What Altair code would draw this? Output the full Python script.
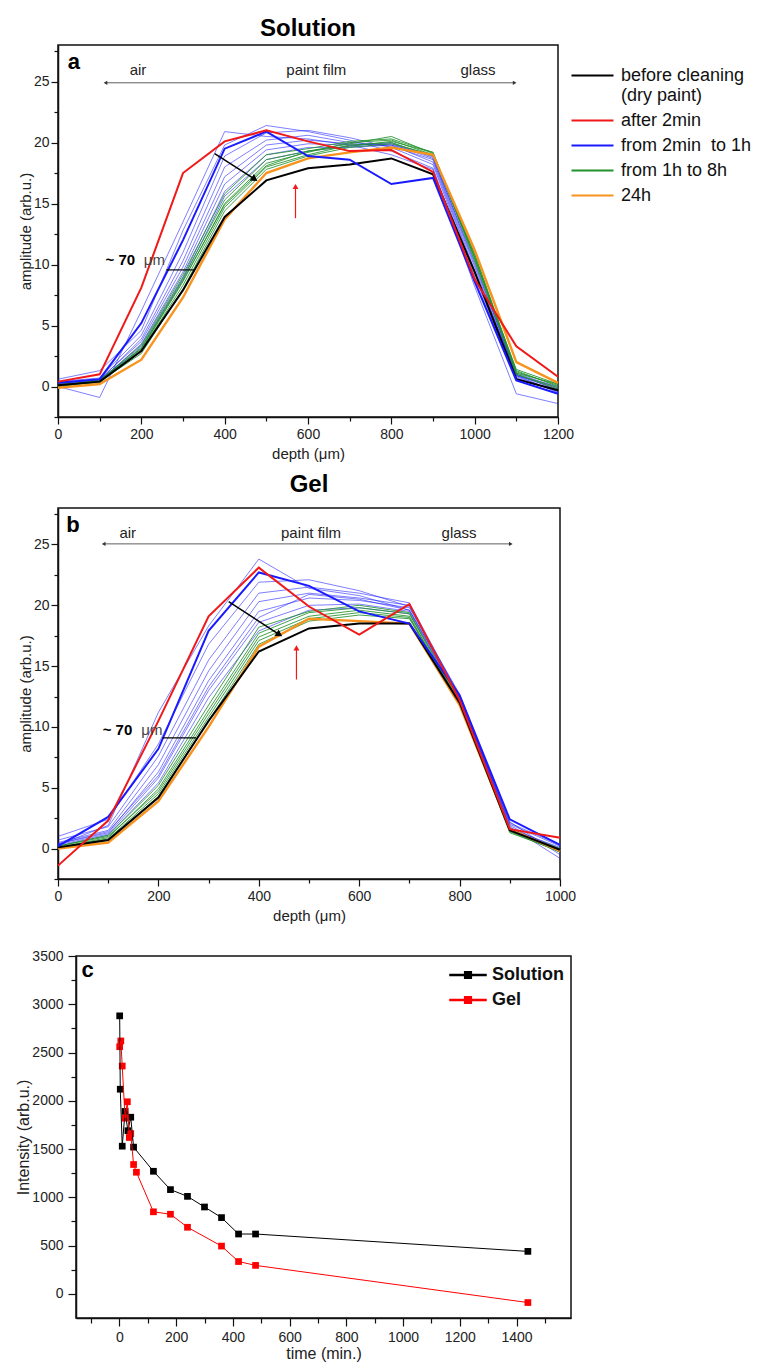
import altair as alt
import pandas as pd

FONT = "Liberation Sans"

# ---------------- Panel a : Solution ----------------
depth_a = [0, 100, 200, 300, 400, 500, 600, 700, 800, 900, 1000, 1100, 1200]
a_black = [0.1, 0.4, 2.9, 7.9, 13.9, 16.9, 17.9, 18.2, 18.7, 17.4, 9.4, 0.6, -0.3]
a_red = [0.4, 1.0, 8.1, 17.5, 20.1, 21.0, 20.1, 19.3, 19.4, 17.6, 8.8, 3.3, 0.8]
a_blue = [0.3, 0.6, 5.2, 12.0, 19.5, 20.9, 18.9, 18.6, 16.6, 17.1, 8.6, 0.5, -0.6]
a_orange = [-0.1, 0.2, 2.2, 7.3, 13.7, 17.5, 18.7, 19.2, 19.6, 19.0, 11.2, 2.0, 0.3]
a_tb1 = [0.0, -0.9, 6.2, 13.5, 20.9, 20.5, 20.3, 19.8, 19.0, 17.8, 8.2, -0.6, -1.4]
a_tb2 = [0.6, 1.3, 4.6, 12.8, 19.8, 21.4, 20.9, 20.2, 19.3, 17.9, 8.6, 0.9, -0.5]
a_tb3 = [0.4, 0.7, 4.2, 11.0, 18.9, 20.8, 21.0, 20.4, 19.6, 18.2, 9.0, 0.7, -0.4]
a_tb4 = [0.3, 0.5, 3.9, 10.3, 18.0, 20.2, 20.6, 20.0, 19.8, 18.4, 9.3, 0.9, -0.2]
a_tb5 = [0.2, 0.6, 3.7, 9.8, 17.2, 19.8, 20.2, 19.9, 19.7, 18.6, 9.5, 1.0, -0.3]
a_tb6 = [0.1, 0.4, 3.5, 9.4, 16.6, 19.4, 19.9, 19.8, 19.9, 18.7, 9.8, 0.8, -0.4]
a_tb7 = [0.2, 0.5, 3.3, 9.0, 16.0, 19.0, 19.6, 19.6, 19.8, 18.9, 10.0, 1.1, -0.1]
a_tb8 = [0.3, 0.6, 3.1, 8.8, 15.6, 18.6, 19.3, 19.7, 20.0, 18.8, 10.2, 0.9, 0.0]
a_g1 = [0.1, 0.5, 3.4, 9.2, 15.8, 19.0, 19.5, 20.1, 20.3, 19.2, 10.3, 1.2, 0.1]
a_g2 = [0.0, 0.4, 3.2, 8.9, 15.3, 18.6, 19.3, 19.9, 20.5, 19.1, 10.5, 1.4, 0.2]
a_g3 = [0.1, 0.5, 3.0, 8.6, 15.0, 18.3, 19.2, 20.0, 20.2, 19.0, 10.6, 1.0, -0.1]
a_g4 = [0.2, 0.3, 2.9, 8.3, 14.7, 18.0, 19.0, 19.8, 20.0, 18.9, 10.8, 1.3, 0.0]
a_g5 = [0.0, 0.4, 2.7, 8.0, 14.4, 17.8, 18.9, 19.6, 19.9, 19.0, 10.9, 1.1, 0.2]
a_g6 = [0.1, 0.5, 3.1, 8.7, 14.9, 18.1, 19.3, 19.7, 20.1, 19.2, 10.6, 1.0, -0.2]

# ---------------- Panel b : Gel ----------------
depth_b = [0, 100, 200, 300, 400, 500, 600, 700, 800, 900, 1000]
b_black = [0.1, 0.7, 4.2, 10.5, 16.2, 18.1, 18.5, 18.5, 12.0, 1.5, -0.1]
b_red = [-1.4, 2.3, 10.5, 19.1, 23.1, 19.9, 17.6, 20.1, 12.2, 1.6, 0.9]
b_blue = [0.2, 2.6, 8.2, 17.9, 22.7, 21.6, 19.5, 18.5, 12.6, 2.4, 0.3]
b_orange = [0.0, 0.5, 3.9, 10.0, 16.6, 18.9, 18.7, 18.5, 11.8, 1.6, -0.2]
b_tb1 = [0.3, 1.9, 11.2, 18.3, 23.8, 21.4, 20.8, 19.6, 12.5, 1.8, -0.8]
b_tb2 = [1.0, 2.4, 8.6, 16.8, 21.9, 22.1, 21.2, 19.9, 12.7, 2.2, -0.5]
b_tb3 = [0.7, 1.8, 7.6, 15.5, 21.0, 21.5, 21.0, 20.2, 12.5, 2.0, 0.2]
b_tb4 = [0.5, 1.5, 6.9, 14.6, 20.3, 21.0, 20.6, 20.0, 12.4, 1.7, 0.0]
b_tb5 = [0.4, 1.3, 6.3, 13.8, 19.5, 20.6, 20.4, 19.8, 12.6, 1.9, -0.3]
b_tb6 = [0.3, 1.2, 5.8, 13.0, 18.6, 20.0, 20.1, 19.5, 12.3, 1.6, 0.1]
b_tb7 = [0.2, 1.1, 5.4, 12.4, 17.9, 19.6, 19.8, 19.3, 12.4, 1.5, -0.2]
b_tb8 = [0.4, 1.4, 6.0, 13.3, 19.0, 20.9, 20.5, 19.6, 12.5, 2.1, 0.3]
b_g1 = [0.2, 1.1, 5.2, 11.8, 18.2, 19.5, 20.0, 19.4, 12.1, 1.5, -0.1]
b_g2 = [0.1, 0.9, 4.9, 11.4, 17.7, 19.4, 19.8, 19.3, 12.0, 1.4, -0.3]
b_g3 = [0.2, 1.0, 4.7, 11.1, 17.4, 19.1, 19.6, 19.1, 11.9, 1.3, -0.2]
b_g4 = [0.1, 0.8, 4.5, 10.8, 17.1, 18.9, 19.4, 19.0, 12.0, 1.5, 0.0]
b_g5 = [0.0, 0.7, 4.3, 10.5, 16.8, 18.7, 19.2, 18.9, 11.9, 1.4, -0.1]

# ---------------- Panel c : intensity vs time ----------------
sol_time = [1, 3, 10, 20, 30, 40, 50, 120, 180, 240, 300, 360, 420, 480, 1440]
sol_int = [2880, 2120, 1530, 1890, 1690, 1830, 1520, 1270, 1080, 1010, 900, 790, 620, 620, 440]
gel_time = [1, 5, 10, 20, 28, 35, 40, 50, 60, 120, 180, 240, 360, 420, 480, 1440]
gel_int = [2560, 2620, 2360, 1820, 1990, 1620, 1660, 1340, 1260, 850, 825, 690, 495, 335, 295, -90]

# ---------------- labels / ticks ----------------
LEG = ["before cleaning|(dry paint)", "after 2min", "from 2min\u00a0 to 1h", "from 1h to 8h", "24h"]
LEG_COLORS = ["#000000", "#f01818", "#1a1aff", "#22922b", "#f7931e"]
C_LEG = ["Solution", "Gel"]
C_COLORS = ["#000000", "#ff0000"]
AMP_TICKS = [-2.5, 0, 2.5, 5, 7.5, 10, 12.5, 15, 17.5, 20, 22.5, 25, 27.5]
A_XTICKS = [0, 100, 200, 300, 400, 500, 600, 700, 800, 900, 1000, 1100, 1200]
B_XTICKS = [0, 100, 200, 300, 400, 500, 600, 700, 800, 900, 1000]
C_XTICKS = [-100, 0, 100, 200, 300, 400, 500, 600, 700, 800, 900, 1000, 1100, 1200, 1300, 1400, 1500]
C_YTICKS = [0, 250, 500, 750, 1000, 1250, 1500, 1750, 2000, 2250, 2500, 2750, 3000, 3250, 3500]

ONE = pd.DataFrame({"k": [0]})


def long_df(depths, series):
    rows = []
    for sid, grp, vals in series:
        for d, v in zip(depths, vals):
            rows.append({"depth": d, "amp": v, "sid": sid, "grp": grp})
    return pd.DataFrame(rows)


def axis(values, title, major, minor_len=4, major_len=7, title_pad=3, title_size=15, label_pad=3):
    return alt.Axis(
        values=values,
        title=title,
        labelExpr=f"datum.value % {major} == 0 ? format(datum.value, 'd') : ''",
        tickSize={"condition": {"test": f"datum.value % {major} != 0", "value": minor_len}, "value": major_len},
        grid=False,
        labelFont=FONT, labelFontSize=14, labelColor="#222",
        titleFont=FONT, titleFontSize=title_size, titleFontWeight="normal", titleColor="#222",
        titlePadding=title_pad, labelPadding=label_pad,
        domainColor="#111", domainWidth=1.5, tickColor="#111", tickWidth=1.2,
        labelFlush=False, labelOverlap=False,
    )


def depth_panel(depths, xticks, xmax, width, height, thick, thin_blue, greens,
                title, title_offset, letter, ann, legend):
    xs = alt.Scale(domain=[0, xmax], nice=False, zero=False)
    ys = alt.Scale(domain=[-2.5, 28], nice=False, zero=False)
    XA = axis(xticks, "depth (μm)", 200, title_pad=5, label_pad=3)
    YA = axis(AMP_TICKS, "amplitude (arb.u.)", 5, title_pad=0, label_pad=2)
    X = alt.X("depth:Q", scale=xs, axis=XA)
    Y = alt.Y("amp:Q", scale=ys, axis=YA)
    cscale = alt.Scale(domain=LEG, range=LEG_COLORS)
    col = alt.Color("grp:N", scale=cscale, legend=legend)

    layers = []
    layers.append(alt.Chart(long_df(depths, thin_blue)).mark_line(strokeWidth=0.8, opacity=0.7)
                  .encode(x=X, y=Y, color=col, detail="sid:N"))
    layers.append(alt.Chart(long_df(depths, greens)).mark_line(strokeWidth=1.0, opacity=0.85)
                  .encode(x=X, y=Y, color=col, detail="sid:N"))
    for s in thick:
        sw = 2.4 if s[1] == LEG[4] else 2.0
        layers.append(alt.Chart(long_df(depths, [s])).mark_line(strokeWidth=sw)
                      .encode(x=X, y=Y, color=col))

    def dx(v):
        return alt.X(datum=v, scale=xs, axis=XA)

    def dy(v):
        return alt.Y(datum=v, scale=ys, axis=YA)

    base = alt.Chart(ONE)
    # double arrow air <-> glass
    layers.append(base.mark_rule(color="#333", strokeWidth=0.8)
                  .encode(x=dx(ann["arr_x1"]), x2=alt.X2(datum=ann["arr_x2"]), y=dy(ann["arr_y"])))
    layers.append(base.mark_point(shape="triangle-left", filled=True, size=18, color="#333", opacity=1)
                  .encode(x=dx(ann["arr_x1"]), y=dy(ann["arr_y"])))
    layers.append(base.mark_point(shape="triangle-right", filled=True, size=18, color="#333", opacity=1)
                  .encode(x=dx(ann["arr_x2"]), y=dy(ann["arr_y"])))
    for t, xv in zip(["air", "paint film", "glass"], ann["lab_x"]):
        layers.append(base.mark_text(text=t, font=FONT, fontSize=15, color="#222", baseline="middle")
                      .encode(x=dx(xv), y=dy(ann["lab_y"])))
    # panel letter
    layers.append(base.mark_text(text=letter, font=FONT, fontSize=22, fontWeight="bold", color="#000",
                                 baseline="middle", align="center")
                  .encode(x=dx(ann["let_x"]), y=dy(ann["let_y"])))
    # black diagonal arrow
    layers.append(base.mark_rule(color="#000", strokeWidth=1.5)
                  .encode(x=dx(ann["ba_x1"]), x2=alt.X2(datum=ann["ba_x2"]),
                          y=dy(ann["ba_y1"]), y2=alt.Y2(datum=ann["ba_y2"])))
    layers.append(base.mark_point(shape="triangle-right", filled=True, size=60, color="#000", opacity=1, angle=33)
                  .encode(x=dx(ann["ba_x2"]), y=dy(ann["ba_y2"])))
    # red vertical arrow
    layers.append(base.mark_rule(color="#f01818", strokeWidth=1.2)
                  .encode(x=dx(ann["ra_x"]), y=dy(ann["ra_y1"]), y2=alt.Y2(datum=ann["ra_y2"])))
    layers.append(base.mark_point(shape="triangle-up", filled=True, size=35, color="#f01818", opacity=1)
                  .encode(x=dx(ann["ra_x"]), y=dy(ann["ra_y2"])))
    # ~70 um
    layers.append(base.mark_text(text="~ 70", font=FONT, fontSize=15, fontWeight="bold", color="#000",
                                 align="left", baseline="middle")
                  .encode(x=dx(ann["t70_x"]), y=dy(ann["t70_y"])))
    layers.append(base.mark_text(text="μm", font=FONT, fontSize=15, color="#444",
                                 align="left", baseline="middle")
                  .encode(x=dx(ann["um_x"]), y=dy(ann["t70_y"])))
    layers.append(base.mark_rule(color="#000", strokeWidth=1.2)
                  .encode(x=dx(ann["l70_x1"]), x2=alt.X2(datum=ann["l70_x2"]), y=dy(ann["l70_y"])))

    return alt.layer(*layers).properties(
        width=width, height=height,
        title=alt.TitleParams(title, font=FONT, fontSize=24, fontWeight="bold", color="#000",
                              offset=title_offset, anchor="middle"),
    ).resolve_scale(color="shared")


ann_a = dict(arr_x1=114, arr_x2=1096, arr_y=24.9, lab_x=[192, 620, 1008], lab_y=25.95,
             let_x=38, let_y=26.6, ba_x1=376, ba_y1=19.1, ba_x2=472, ba_y2=17.0,
             ra_x=570, ra_y1=13.8, ra_y2=16.4, t70_x=114, t70_y=10.4, um_x=206,
             l70_x1=260, l70_x2=328, l70_y=9.56)
ann_b = dict(arr_x1=91, arr_x2=902, arr_y=25.05, lab_x=[139, 504, 799], lab_y=25.95,
             let_x=30, let_y=26.6, ba_x1=340, ba_y1=20.3, ba_x2=441, ba_y2=17.6,
             ra_x=475, ra_y1=13.9, ra_y2=16.5, t70_x=89, t70_y=9.75, um_x=166,
             l70_x1=208, l70_x2=275, l70_y=9.1)

legend_a = alt.Legend(
    title=None, orient="none", legendX=523, legendY=19, gridAlign="none",
    symbolType="M-2,0L2,0", symbolSize=441, symbolStrokeWidth=2, symbolOpacity=1,
    labelFont=FONT, labelFontSize=18, labelColor="#111", labelOffset=17,
    labelExpr="split(datum.label, '|')", labelLimit=300, rowPadding=4,
)

thick_a = [("orange", LEG[4], a_orange), ("black", LEG[0], a_black),
           ("blue", LEG[2], a_blue), ("red", LEG[1], a_red)]
thin_a = [(f"tb{i}", LEG[2], v) for i, v in enumerate([a_tb1, a_tb2, a_tb3, a_tb4, a_tb5, a_tb6, a_tb7, a_tb8])]
green_a = [(f"g{i}", LEG[3], v) for i, v in enumerate([a_g1, a_g2, a_g3, a_g4, a_g5, a_g6])]

thick_b = [("orange", LEG[4], b_orange), ("black", LEG[0], b_black),
           ("blue", LEG[2], b_blue), ("red", LEG[1], b_red)]
thin_b = [(f"tb{i}", LEG[2], v) for i, v in enumerate([b_tb1, b_tb2, b_tb3, b_tb4, b_tb5, b_tb6, b_tb7, b_tb8])]
green_b = [(f"g{i}", LEG[3], v) for i, v in enumerate([b_g1, b_g2, b_g3, b_g4, b_g5])]

chart_a = depth_panel(depth_a, A_XTICKS, 1200, 500, 372, thick_a, thin_a, green_a,
                      "Solution", 3, "a", ann_a, legend_a)
chart_b = depth_panel(depth_b, B_XTICKS, 1000, 502, 371, thick_b, thin_b, green_b,
                      "Gel", 10, "b", ann_b, None)

# ---------------- panel c chart ----------------
df_c = pd.concat([
    pd.DataFrame({"time": sol_time, "intensity": sol_int, "sample": "Solution"}),
    pd.DataFrame({"time": gel_time, "intensity": gel_int, "sample": "Gel"}),
])
cx = alt.Scale(domain=[-153, 1592], nice=False, zero=False)
cy = alt.Scale(domain=[-250, 3500], nice=False, zero=False)
CXA = axis(C_XTICKS, "time (min.)", 200, minor_len=5, major_len=8, title_pad=1, title_size=16, label_pad=4)
CYA = axis(C_YTICKS, "Intensity (arb.u.)", 500, minor_len=5, major_len=8, title_pad=0, title_size=16, label_pad=5)
CX = alt.X("time:Q", scale=cx, axis=CXA)
CY = alt.Y("intensity:Q", scale=cy, axis=CYA)
cscale_c = alt.Scale(domain=C_LEG, range=C_COLORS)
legend_c = alt.Legend(
    title=None, orient="none", legendX=382, legendY=9, gridAlign="none",
    symbolType="M-2,-0.06L-0.37,-0.06L-0.37,-0.37L0.37,-0.37L0.37,-0.06L2,-0.06L2,0.06L0.37,0.06L0.37,0.37L-0.37,0.37L-0.37,0.06L-2,0.06Z",
    symbolSize=324, symbolOpacity=1,
    labelFont=FONT, labelFontSize=18, labelFontWeight="bold", labelColor="#111", labelOffset=14,
    rowPadding=6,
)
CCOL = alt.Color("sample:N", scale=cscale_c, legend=legend_c)
c_pts = alt.Chart(df_c).mark_point(shape="square", filled=True, size=45, opacity=1).encode(
    x=CX, y=CY, color=CCOL)
c_line = alt.Chart(df_c).mark_line(strokeWidth=1).encode(x=CX, y=CY, color=CCOL)
c_letter = alt.Chart(ONE).mark_text(text="c", font=FONT, fontSize=22, fontWeight="bold",
                                     baseline="middle", align="center").encode(
    x=alt.X(datum=-112, scale=cx, axis=CXA), y=alt.Y(datum=3350, scale=cy, axis=CYA))
chart_c = alt.layer(c_pts, c_line, c_letter).properties(width=495, height=362)


def spacer(w):
    return alt.Chart(ONE).mark_point(opacity=0).properties(
        width=w, height=1, view=alt.ViewBackground(stroke="transparent"))


ab = alt.vconcat(chart_a, chart_b, spacing=10).resolve_scale(color="independent")
row1 = alt.hconcat(spacer(7), ab, spacing=0).resolve_scale(color="independent")
row2 = alt.hconcat(spacer(5), chart_c, spacing=0).resolve_scale(color="independent")
chart = alt.vconcat(row1, row2, spacing=24).resolve_scale(
    color="independent"
).properties(
    padding={"left": 0, "top": 8, "right": 0, "bottom": 0},
    background="white",
).configure_view(stroke="#111", strokeWidth=1.5)

chart.save("out.html", embed_options={"renderer": "svg", "actions": False})
